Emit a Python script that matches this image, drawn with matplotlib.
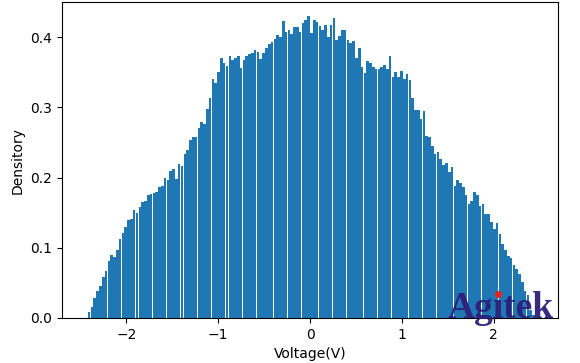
import numpy as np
import matplotlib
matplotlib.use("Agg")
import matplotlib.pyplot as plt

# bin heights, left to right
density = [
    0.009, 0.016, 0.029, 0.038, 0.045, 0.059, 0.067, 0.081, 0.090, 0.087,
    0.097, 0.113, 0.121, 0.129, 0.139, 0.141, 0.154, 0.150, 0.158, 0.165,
    0.167, 0.175, 0.177, 0.178, 0.180, 0.186, 0.188, 0.200, 0.196, 0.210,
    0.212, 0.198, 0.220, 0.216, 0.234, 0.240,
    0.254, 0.258, 0.258, 0.271, 0.279, 0.277, 0.298, 0.314, 0.340, 0.335,
    0.351, 0.370, 0.363, 0.359, 0.374, 0.367, 0.371, 0.373, 0.356, 0.368,
    0.374, 0.376, 0.377, 0.382, 0.379, 0.369, 0.378, 0.384, 0.391, 0.393,
    0.397, 0.403, 0.401, 0.423, 0.408, 0.411, 0.405, 0.414, 0.414, 0.407,
    0.420, 0.424,
    0.430, 0.406, 0.424, 0.422, 0.416, 0.410, 0.417, 0.400, 0.417, 0.427,
    0.396, 0.402, 0.410, 0.410, 0.396, 0.392, 0.394, 0.371, 0.385, 0.358,
    0.349, 0.366, 0.363, 0.358, 0.355, 0.355, 0.357, 0.360, 0.355, 0.373,
    0.344, 0.351, 0.344, 0.352, 0.340, 0.347, 0.339, 0.313, 0.296, 0.296,
    0.284, 0.295,
    0.259, 0.258, 0.245, 0.233, 0.237, 0.226, 0.218, 0.221, 0.208, 0.215,
    0.188, 0.196, 0.193, 0.186, 0.175, 0.162, 0.167, 0.179, 0.175, 0.160,
    0.162, 0.148, 0.148, 0.137, 0.127, 0.135, 0.119, 0.106, 0.097, 0.089,
    0.086, 0.076, 0.070, 0.063, 0.051, 0.038, 0.033, 0.011, 0.004,
]
v_min, v_max = -2.42, 2.45

edges = np.linspace(v_min, v_max, len(density) + 1)
centers = (edges[:-1] + edges[1:]) / 2

fig = plt.figure(figsize=(5.8, 3.63), dpi=100)
ax = fig.add_axes([0.107, 0.124, 0.855, 0.870])

# slightly narrow, non-antialiased bars -> the white seams of the original
ax.hist(centers, bins=edges, weights=density, color='#1f77b4',
        rwidth=0.93, antialiased=False)

ax.set_xlim(-2.70, 2.70)
ax.set_ylim(0, 0.45)
ax.set_xticks([-2, -1, 0, 1, 2])
ax.set_yticks([0.0, 0.1, 0.2, 0.3, 0.4])
ax.set_xlabel('Voltage(V)')
ax.set_ylabel('Densitory')

# watermark, dotless i with a red dot on top
fig.text(0.772, 0.124, 'Ag\u0131tek', fontsize=27, fontweight='bold',
         family='Liberation Serif', color='#2d1f78', alpha=0.95)
ax.plot([0.859], [0.190], 'o', ms=4, color='#e8231e',
        transform=fig.transFigure, clip_on=False)

fig.savefig('out.png', dpi=100)
